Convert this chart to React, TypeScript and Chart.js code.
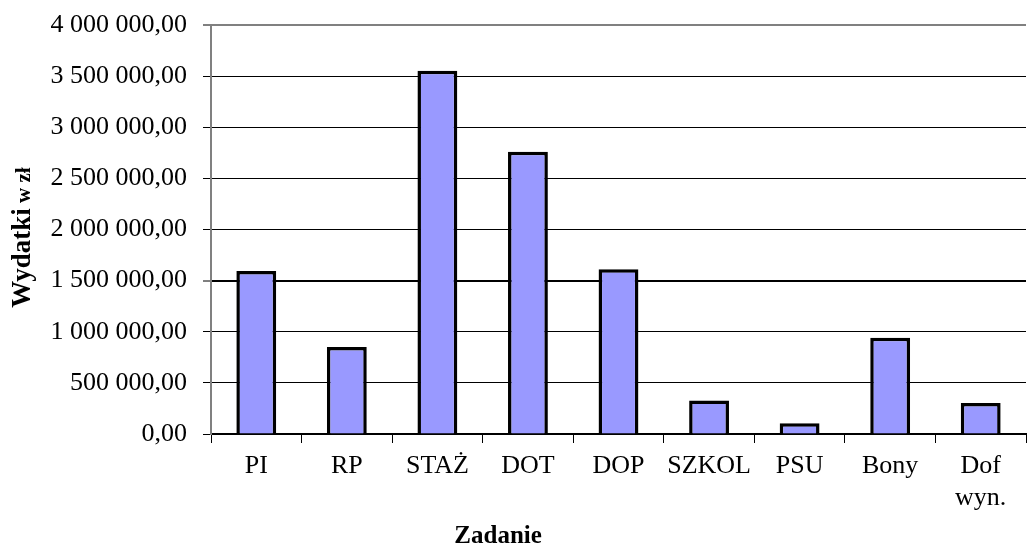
import React, { useEffect, useRef } from "react";
import { Chart, registerables } from "chart.js";

Chart.register(...registerables);

const categories: (string | string[])[] = ["PI", "RP", "STAŻ", "DOT", "DOP", "SZKOL", "PSU", "Bony", ["Dof", "wyn."]];
const expenses: number[] = [1594000, 850000, 3553000, 2760000, 1611000, 328000, 106000, 942000, 302000];
const yTickValues: number[] = [0, 500000, 1000000, 1500000, 2000000, 2500000, 3000000, 3500000, 4000000];
const yTitleMain = "Wydatki";
const yTitleUnit = " w zł";
const xTitle = "Zadanie";

const SERIF = "'Liberation Serif', 'Times New Roman', serif";

function formatPl(v: number): string {
  const s = Math.round(v).toString().replace(/\B(?=(\d{3})+(?!\d))/g, " ");
  return s + ",00";
}

const titlesPlugin = {
  id: "customTitles",
  afterDraw(chart: any) {
    const ctx = chart.ctx as CanvasRenderingContext2D;
    const area = chart.chartArea;
    ctx.save();
    ctx.fillStyle = "#000";
    ctx.font = `bold 27px ${SERIF}`;
    const wMain = ctx.measureText(yTitleMain).width;
    ctx.font = `bold 21px ${SERIF}`;
    const wUnit = ctx.measureText(yTitleUnit).width;
    const total = wMain + wUnit;
    const cy = (area.top + area.bottom) / 2 + 8;
    ctx.translate(30, cy + total / 2);
    ctx.rotate(-Math.PI / 2);
    ctx.textBaseline = "alphabetic";
    ctx.textAlign = "left";
    ctx.font = `bold 27px ${SERIF}`;
    ctx.fillText(yTitleMain, 0, 0);
    ctx.font = `bold 21px ${SERIF}`;
    ctx.fillText(yTitleUnit, wMain, 0);
    ctx.restore();

    ctx.save();
    ctx.fillStyle = "#000";
    ctx.font = `bold 25px ${SERIF}`;
    ctx.textAlign = "center";
    ctx.textBaseline = "alphabetic";
    ctx.fillText(xTitle, chart.width * 0.485, chart.height - 2);
    ctx.restore();
  },
};

export default function App() {
  const canvasRef = useRef<HTMLCanvasElement | null>(null);

  useEffect(() => {
    if (!canvasRef.current) return;
    const chart = new Chart(canvasRef.current, {
      type: "bar",
      data: {
        labels: categories,
        datasets: [
          {
            data: expenses,
            backgroundColor: "#9999FF",
            borderColor: "#000000",
            borderWidth: 3.5,
            categoryPercentage: 1,
            barPercentage: 0.44,
          },
        ],
      },
      options: {
        animation: false,
        responsive: true,
        maintainAspectRatio: false,
        layout: { padding: { top: 25, right: 1, left: 0, bottom: 0 } },
        plugins: {
          legend: { display: false },
          tooltip: { enabled: false },
          title: { display: false },
        },
        scales: {
          x: {
            grid: {
              display: true,
              drawOnChartArea: false,
              drawTicks: true,
              tickLength: 9,
              color: "#000",
              lineWidth: 1,
              offset: true,
            },
            border: { display: true, color: "#000", width: 2 },
            ticks: {
              color: "#000",
              font: { family: SERIF, size: 26, lineHeight: 1.23 },
              padding: 7,
              maxRotation: 0,
              autoSkip: false,
            },
            afterFit(scale: any) {
              scale.height = 111;
              scale.paddingLeft = 0;
              scale.paddingRight = 0;
            },
          },
          y: {
            min: 0,
            max: 4000000,
            afterBuildTicks(scale: any) {
              scale.ticks = yTickValues.map((v) => ({ value: v }));
            },
            grid: {
              color: (c: any) => (c.tick && c.tick.value === 4000000 ? "#808080" : "#000"),
              lineWidth: (c: any) =>
                c.tick && (c.tick.value === 1500000 || c.tick.value === 4000000) ? 2 : 1,
              tickColor: "#000",
              tickWidth: 1,
              tickLength: 8,
              drawTicks: true,
            },
            border: { display: true, color: "#808080", width: 2 },
            ticks: {
              color: "#000",
              font: { family: SERIF, size: 26 },
              padding: 16,
              callback: (v: any) => formatPl(Number(v)),
            },
            afterFit(scale: any) {
              scale.width = 211;
              scale.paddingTop = 0;
              scale.paddingBottom = 0;
            },
          },
        },
      },
      plugins: [titlesPlugin],
    });
    return () => chart.destroy();
  }, []);

  return (
    <div style={{ position: "fixed", left: 0, top: 0, width: 1027, height: 545, background: "#fff" }}>
      <canvas ref={canvasRef} />
    </div>
  );
}
